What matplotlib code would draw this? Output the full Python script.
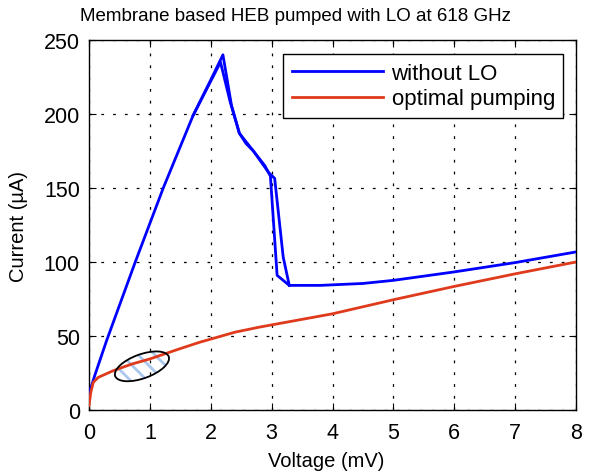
import matplotlib
matplotlib.use('Agg')
import matplotlib.pyplot as plt
from matplotlib.patches import Ellipse
from matplotlib.transforms import IdentityTransform

plt.rcParams['font.family'] = ['Liberation Sans', 'DejaVu Sans']
plt.rcParams['lines.scale_dashes'] = False
plt.rcParams['hatch.linewidth'] = 2.0

title = "Membrane based HEB pumped with LO at 618 GHz"
x_label = "Voltage (mV)"
y_label = "Current (\u00b5A)"
x_ticks = [0, 1, 2, 3, 4, 5, 6, 7, 8]
y_ticks = [0, 50, 100, 150, 200, 250]
series_names = ["without LO", "optimal pumping"]

# without LO: forward sweep
nolo_fwd_v = [0.0, 0.1, 0.29, 0.76, 1.22, 1.71, 2.0, 2.2, 2.34, 2.47, 2.58, 2.70, 2.89, 2.98,
              3.09, 3.29, 3.8, 4.5, 5.0, 6.0, 7.0, 8.0]
nolo_fwd_i = [11, 24, 47, 100, 150, 199, 223, 240, 206, 187, 180, 175, 165, 158,
              91, 84.2, 84.2, 85.5, 87.6, 93.3, 99.6, 106.8]
# without LO: return sweep
nolo_ret_v = [3.29, 3.19, 3.05, 2.95, 2.70, 2.47, 2.32, 2.16, 1.71]
nolo_ret_i = [84.2, 103.4, 156.5, 160.5, 175, 187, 208, 235, 199]

# optimal pumping
opt_v = [0.0, 0.03, 0.07, 0.15, 0.4, 0.7, 1.0, 1.5, 1.82, 2.4, 2.8, 4.0, 5.0, 6.0, 7.0, 8.0]
opt_i = [3, 12, 18.7, 22, 26.6, 31, 34.5, 41.5, 45.8, 52.6, 56, 65, 74.5, 83.5, 92, 100]

# highlighted region (ellipse centre, data units)
ellipse_center = (0.87, 29.5)

W, H = 590, 477
fig = plt.figure(figsize=(W / 100, H / 100), dpi=100)
ax = fig.add_axes([89 / W, (H - 411) / H, 487 / W, 370 / H])

blue = '#0000FF'
red = '#DF3A1C'

ax.plot(nolo_fwd_v, nolo_fwd_i, color=blue, lw=2.0, label=series_names[0], zorder=3)
ax.plot(nolo_ret_v, nolo_ret_i, color=blue, lw=2.0, zorder=3)
ax.plot(opt_v, opt_i, color=red, lw=2.0, label=series_names[1], zorder=3)

ax.set_xlim(0, 8)
ax.set_ylim(0, 250)
ax.set_xticks(x_ticks)
ax.set_yticks(y_ticks)
ax.tick_params(direction='in', top=True, right=True, length=5, width=0.8,
               labelsize=15.5, colors='black')
ax.tick_params(axis='x', pad=8.5)
ax.tick_params(axis='y', pad=6.5)
for s in ax.spines.values():
    s.set_linewidth(1.0)
    s.set_color('black')
ax.grid(True, color='black', linestyle=(0, (2.0, 6.5)), linewidth=0.9)
ax.set_axisbelow(True)

fig.text(0.5, 1 - 21 / H, title, fontsize=13.5, ha='center', va='baseline')
ax.set_xlabel(x_label, fontsize=14.5)
ax.set_ylabel(y_label, fontsize=14.5)
ax.xaxis.set_label_coords(0.487, -0.11)
ax.yaxis.set_label_coords(-0.125, 0.5)

leg = ax.legend(loc='upper right', bbox_to_anchor=(0.974, 0.962), borderaxespad=0,
                fontsize=16, handlelength=4.1, handletextpad=0.4, fancybox=False,
                edgecolor='black', framealpha=1, borderpad=0.38, labelspacing=0.22)
leg.get_frame().set_linewidth(1.0)

# ellipse with hatch
cx, cy = ax.transData.transform(ellipse_center)
hatch_el = Ellipse((cx, cy), 57, 24, angle=20, transform=IdentityTransform(),
                   facecolor='none', edgecolor='#aac8ee', hatch='\\\\', linewidth=0, zorder=2)
ax.add_patch(hatch_el)
edge_el = Ellipse((cx, cy), 57, 24, angle=20, transform=IdentityTransform(),
                  facecolor='none', edgecolor='black', linewidth=1.3, zorder=4)
ax.add_patch(edge_el)

fig.savefig('out.png', dpi=100)
